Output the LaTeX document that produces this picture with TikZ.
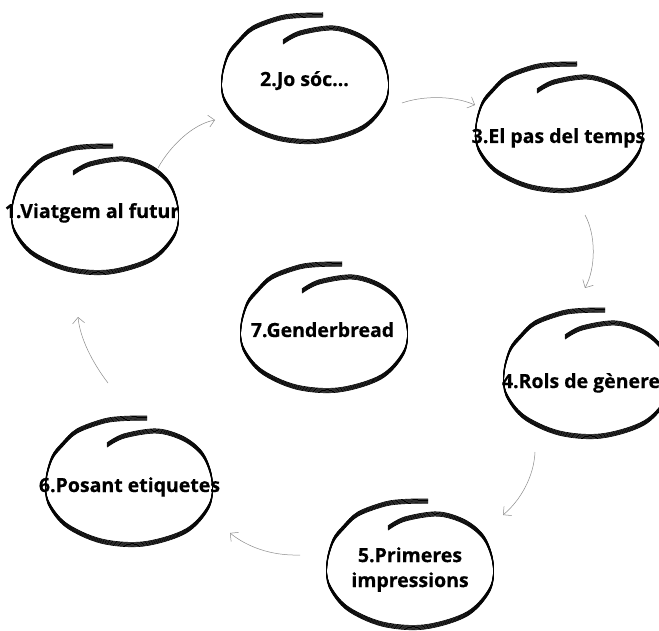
\documentclass[tikz,border=0pt]{standalone}
\usepackage{fontspec}
\setmainfont{Open Sans}[BoldFeatures={FakeBold=0.5}]
\usetikzlibrary{arrows.meta}
\tikzset{
  lbl/.style={inner sep=0pt, font=\bfseries\fontsize{19.5}{25}\selectfont, text=black, anchor=base},
  arr/.style={draw=black!45, line width=0.5pt, -{Straight Barb[length=6pt,width=12pt,line width=0.5pt]}},
  brush/.style={draw=black, line width=0.6pt, line cap=butt}
}
\newcommand\scribble[1]{%
  \begin{scope}[shift={(#1)}]
    \foreach \dy in {-2.2,-1.65,-1.1,-0.55,0,0.55,1.1,1.65,2.2}{
      \draw[brush, yshift=\dy pt] plot[smooth, tension=0.55] coordinates {
        (-22,-43) (-5,-52) (28,-57) (55,-49) (74,-33) (83,-8) (80,18) (57,43)
        (14,56) (-28,53) (-63,37) (-81,14) (-83,-8) (-77,-30) (-67,-43)
        (-52,-57) (-25,-67) (-5,-69.5) (18,-70)};
    }
  \end{scope}}
\begin{document}
\begin{tikzpicture}[x=1pt, y=-1pt]
  \useasboundingbox (0,0) rectangle (659,631);
  \clip (0,0) rectangle (659,631);
  \fill[white] (0,0) rectangle (659,631);
  % ellipse centres
  \coordinate (e1) at (95,216);
  \coordinate (e2) at (305,85);
  \coordinate (e3) at (559,134);
  \coordinate (e4) at (587,380);
  \coordinate (e5) at (410,571);
  \coordinate (e6) at (129,488);
  \coordinate (e7) at (324,334);
  \foreach \e in {e1,e2,e3,e4,e5,e6,e7}{\scribble{\e}}
  % labels
  \node[lbl] (n1) at (92,218) {1.Viatgem al futur};
  \node[lbl] (n2) at (304.5,86) {2.Jo sóc...};
  \node[lbl] (n3) at (558.5,143) {3.El pas del temps};
  \node[lbl] (n4) at (581,388) {4.Rols de gènere};
  \node[lbl, anchor=center, align=center] (n5) at (410,569.5) {5.Primeres\\impressions};
  \node[lbl] (n6) at (129.5,492) {6.Posant etiquetes};
  \node[lbl] (n7) at (322.5,337) {7.Genderbread};
  % connector ends
  \coordinate (s12) at (158,168); \coordinate (t12) at (215,120);
  \coordinate (s23) at (402,103); \coordinate (t23) at (475,105);
  \coordinate (s34) at (585,215); \coordinate (t34) at (585,288);
  \coordinate (s45) at (535,452); \coordinate (t45) at (503,515);
  \coordinate (s56) at (300,555); \coordinate (t56) at (230,533);
  \coordinate (s61) at (108,383); \coordinate (t61) at (78,317);
  \draw[arr] (s12) .. controls (170,146) and (193,124) .. (t12);
  \draw[arr] (s23) .. controls (422,96) and (452,95) .. (t23);
  \draw[arr] (s34) .. controls (596,235) and (596,268) .. (t34);
  \draw[arr] (s45) .. controls (534,476) and (521,500) .. (t45);
  \draw[arr] (s56) .. controls (270,556) and (246,546) .. (t56);
  \draw[arr] (s61) .. controls (92,362) and (80,338) .. (t61);
\end{tikzpicture}
\end{document}
